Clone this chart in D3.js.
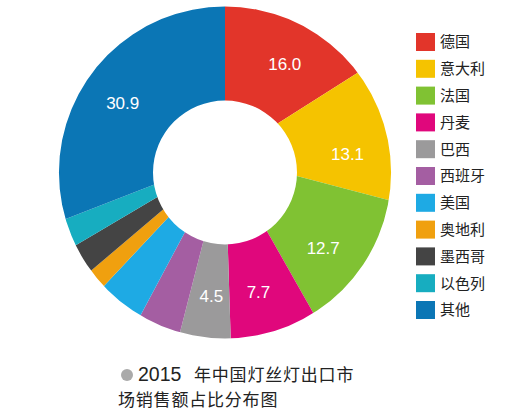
<!DOCTYPE html>
<html>
<head>
<meta charset="utf-8">
<script src="https://cdn.jsdelivr.net/npm/d3@7"></script>
<style>
  html, body { margin: 0; padding: 0; background: #fff; }
  svg { display: block; }
</style>
</head>
<body>
<div id="chart"></div>
<script>
var width = 523;
var height = 412;

// data
var countries = ["德国", "意大利", "法国", "丹麦", "巴西", "西班牙", "美国", "奥地利", "墨西哥", "以色列", "其他"];
var shares = [16.0, 13.1, 12.7, 7.7, 4.5, 3.8, 4.2, 1.8, 2.7, 2.6, 30.9];
var shownLabels = ["16.0", "13.1", "12.7", "7.7", "4.5", "", "", "", "", "", "30.9"];
var colors = ["#e2352a", "#f5c300", "#80c233", "#e0077c", "#9b9a9b", "#a45ea2", "#1eaae4", "#f0a00f", "#444444", "#17adc0", "#0b76b5"];
var captionLines = ["2015 年中国灯丝灯出口市", "场销售额占比分布图"];

var cx = 225, cy = 172.5;      // ring centre
var wedgeY = 157;              // wedges in the picture fan out from a point a bit higher
var outerR = 166, innerR = 72;

var svg = d3.select("#chart").append("svg")
    .attr("width", width).attr("height", height);

var color = d3.scaleOrdinal().domain(countries).range(colors);

var pie = d3.pie().sort(null).value(function(d, i) { return shares[i]; });
var slices = pie(countries);

// ring shape used to clip the wedges
var ring = d3.arc().innerRadius(innerR).outerRadius(outerR)
    .startAngle(0).endAngle(2 * Math.PI);
svg.append("clipPath").attr("id", "ring")
    .append("path")
    .attr("transform", "translate(" + cx + "," + cy + ")")
    .attr("d", ring());

var wedge = d3.arc().innerRadius(0).outerRadius(320);

svg.append("g")
    .attr("clip-path", "url(#ring)")
    .selectAll("path")
    .data(slices)
    .enter().append("path")
    .attr("transform", "translate(" + cx + "," + wedgeY + ")")
    .attr("d", wedge)
    .attr("fill", function(d) { return color(d.data); });

var labelArc = d3.arc().innerRadius(124).outerRadius(124);

svg.append("g")
    .attr("transform", "translate(" + cx + "," + cy + ")")
    .selectAll("text")
    .data(slices)
    .enter().append("text")
    .attr("x", function(d) { return labelArc.centroid(d)[0]; })
    .attr("y", function(d) { return labelArc.centroid(d)[1]; })
    .attr("dy", "0.36em")
    .attr("text-anchor", "middle")
    .style("font-family", "'Liberation Sans', Arial, sans-serif")
    .style("font-size", "17px")
    .style("fill", "#fff")
    .text(function(d, i) { return shownLabels[i]; });

// legend
var legend = svg.append("g").attr("transform", "translate(416,33)");
var rows = legend.selectAll("g")
    .data(countries)
    .enter().append("g")
    .attr("transform", function(d, i) { return "translate(0," + (i * 26.8) + ")"; });

rows.append("rect")
    .attr("width", 19)
    .attr("height", 18)
    .attr("fill", function(d) { return color(d); });

rows.append("text")
    .attr("x", 24)
    .attr("y", 9)
    .attr("dy", "0.36em")
    .style("font-family", "'Noto Sans CJK SC', sans-serif")
    .style("font-size", "15px")
    .style("fill", "#222")
    .text(function(d) { return d; });

// caption
svg.append("circle")
    .attr("cx", 127)
    .attr("cy", 375)
    .attr("r", 6)
    .attr("fill", "#aaaaaa");

var firstParts = captionLines[0].split(" ");
var line1 = svg.append("text")
    .attr("x", 138)
    .attr("y", 381)
    .style("fill", "#222");
line1.append("tspan")
    .style("font-family", "'Liberation Sans', Arial, sans-serif")
    .style("font-size", "19.5px")
    .text(firstParts[0]);
line1.append("tspan")
    .attr("x", 194)
    .style("font-family", "'Noto Sans CJK SC', sans-serif")
    .style("font-size", "17px")
    .style("letter-spacing", "0.8px")
    .text(firstParts[1]);

svg.append("text")
    .attr("x", 118)
    .attr("y", 406)
    .style("font-family", "'Noto Sans CJK SC', sans-serif")
    .style("font-size", "17px")
    .style("letter-spacing", "0.8px")
    .style("fill", "#222")
    .text(captionLines[1]);
</script>
</body>
</html>
